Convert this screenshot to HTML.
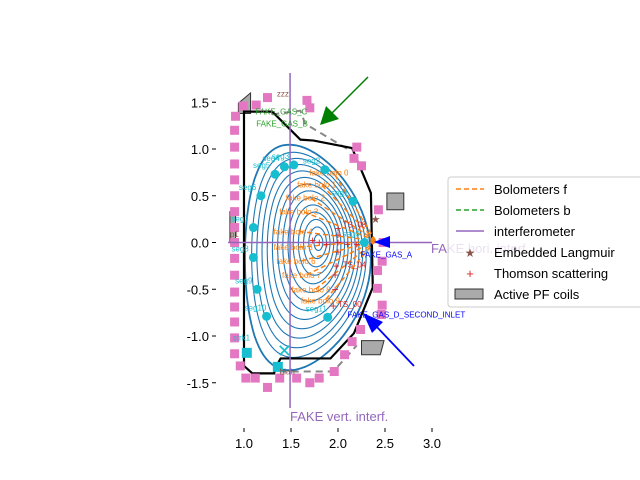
<!DOCTYPE html>
<html><head><meta charset="utf-8"><style>
body{margin:0;background:#fff}
svg{display:block;font-family:"Liberation Sans","DejaVu Sans",sans-serif}
</style></head><body>
<svg id="c" width="640" height="480" viewBox="0 0 640 480">
<g id="plot"></g>
<g id="axes"></g>
<g id="legend">
<rect x="448" y="177" width="200" height="130" rx="3" fill="#fff" fill-opacity="0.8" stroke="#ccc"/>
<line x1="456" y1="189" x2="484" y2="189" stroke="#ff7f0e" stroke-width="1.5" stroke-dasharray="5,3"/>
<text x="494" y="194" font-size="13">Bolometers f</text>
<line x1="456" y1="210" x2="484" y2="210" stroke="#2ca02c" stroke-width="1.5" stroke-dasharray="5,3"/>
<text x="494" y="215" font-size="13">Bolometers b</text>
<line x1="456" y1="231" x2="484" y2="231" stroke="#9467bd" stroke-width="1.5"/>
<text x="494" y="236" font-size="13">interferometer</text>
<text x="470" y="257" font-size="12" fill="#8c564b" text-anchor="middle">★</text>
<text x="494" y="257" font-size="13">Embedded Langmuir</text>
<text x="470" y="278" font-size="13" fill="#d62728" text-anchor="middle">+</text>
<text x="494" y="278" font-size="13">Thomson scattering</text>
<rect x="455" y="289" width="28" height="10" fill="#aaa" stroke="#333"/>
<text x="494" y="299" font-size="13">Active PF coils</text>
</g>
</svg>
<script>
const xTicks=[1.0,1.5,2.0,2.5,3.0];
const yTicks=[1.5,1.0,0.5,0.0,-0.5,-1.0,-1.5];
const wallR=[1.0,1.3,1.6,1.74,2.15,2.35,2.37,2.17,1.92,1.82,1.39,1.34,1.32,1.09,1.0];
const wallZ=[1.4,1.4,1.1,1.09,1.01,0.53,-0.48,-0.97,-1.24,-1.24,-1.24,-1.33,-1.4,-1.4,-1.32];
const pinkR=[1.25,1.13,0.99,0.91,0.9,0.9,0.9,0.9,0.9,0.9,0.9,0.9,0.9,0.9,0.9,0.9,0.9,0.9,0.9,0.96,1.02,1.12,1.25,1.38,1.56,1.7,1.8,1.96,2.07,2.15,2.24,2.46,2.47,2.42,2.42,2.47,2.48,2.43,2.2,2.17,2.25,1.67,1.7];
const pinkZ=[1.55,1.47,1.46,1.35,1.2,1.02,0.84,0.67,0.5,0.33,0.16,0.0,-0.17,-0.35,-0.53,-0.69,-0.85,-1.02,-1.19,-1.32,-1.45,-1.45,-1.55,-1.45,-1.45,-1.5,-1.45,-1.38,-1.2,-1.06,-0.93,-0.77,-0.67,-0.49,-0.3,-0.2,0.0,0.35,1.02,0.9,0.82,1.52,1.44];
const segR=[1.33,1.43,1.53,1.86,2.16,1.18,1.1,1.1,1.14,1.24,1.89,2.28];
const segZ=[0.73,0.81,0.83,0.78,0.44,0.5,0.16,-0.16,-0.5,-0.79,-0.8,0.0];
const segLbl=["seg5","seg4","seg3","seg2","seg1","seg6","seg7","seg8","seg9","seg10","seg11","seg0"];
const tsR=[2.0,2.0,2.0,2.0,1.98,1.97,1.97,1.95,1.73,1.8,1.88,2.1,2.2];
const tsZ=[0.15,0.08,0.0,-0.1,-0.25,-0.35,-0.5,-0.68,0.02,0.0,-0.02,-0.02,-0.02];
const boloEndR=[1.95,1.82,1.7,1.63,1.57,1.57,1.6,1.66,1.76,1.86];
const boloEndZ=[0.75,0.62,0.48,0.33,0.12,-0.05,-0.2,-0.35,-0.5,-0.62];
const fluxLevels=[0.07,0.14,0.21,0.28,0.35,0.42,0.49,0.56,0.63,0.7,0.77,0.84,0.91,1.0];
const X=r=>150+94*r, Y=z=>242.5-93.5*z;
const NS="http://www.w3.org/2000/svg";
const plot=document.getElementById('plot'), axes=document.getElementById('axes');
function mk(p,tag,at,txt){const e=document.createElementNS(NS,tag);for(const k in at)e.setAttribute(k,at[k]);if(txt!==undefined)e.textContent=txt;p.appendChild(e);return e;}
// coils
[[[0.94,1.49],[1.07,1.6],[1.07,1.38],[0.94,1.38]],[[2.52,0.53],[2.7,0.53],[2.7,0.35],[2.52,0.35]],[[2.25,-1.05],[2.49,-1.05],[2.45,-1.2],[2.25,-1.2]],[[0.85,0.33],[0.91,0.33],[0.91,0.0],[0.85,0.0]]].forEach((c,i)=>{
const e=mk(plot,'polygon',{points:c.map(p=>X(p[0])+','+Y(p[1])).join(' '),fill:'#aaa',stroke:'#333'});

});
// gray dashed outlines
[[[1.3,1.37],[1.6,1.41],[1.65,1.27],[2.1,1.0]],[[1.38,-1.38],[1.95,-1.38],[2.2,-1.1]],[[1.0,1.3],[1.0,-1.3]]].forEach((l,i)=>{
const e=mk(plot,'polyline',{points:l.map(p=>X(p[0])+','+Y(p[1])).join(' '),fill:'none',stroke:'#888','stroke-width':2,'stroke-dasharray':'7,5'});

});
// flux surfaces
fluxLevels.forEach((s,i)=>{let pts=[];const Rc=1.8-0.12*s,Zc=-0.16*s*s,a=0.67*s,k=1.8,d=0.3*s;
for(let j=0;j<=90;j++){const t=j/90*2*Math.PI;const r=Rc+a*Math.cos(t+d*Math.sin(t));const z=Zc+k*a*Math.sin(t);pts.push(X(r).toFixed(1)+','+Y(z).toFixed(1));}
const e=mk(plot,'polyline',{points:pts.join(' '),fill:'none',stroke:'#1f77b4','stroke-width':i==fluxLevels.length-1?1.8:1.1});

});
// wall
const w=mk(plot,'polygon',{points:wallR.map((r,i)=>X(r)+','+Y(wallZ[i])).join(' '),fill:'none',stroke:'#000','stroke-width':2.2});


// pink squares
pinkR.forEach((r,i)=>{const e=mk(plot,'rect',{x:X(r)-4.5,y:Y(pinkZ[i])-4.5,width:9,height:9,fill:'#e377c2'});

});
// interferometer
const iv=mk(plot,'line',{x1:X(1.49),y1:73,x2:X(1.49),y2:408,stroke:'#9467bd','stroke-width':1.5});


const ih=mk(plot,'line',{x1:228,y1:Y(0),x2:432,y2:Y(0),stroke:'#9467bd','stroke-width':1.5});


const vl=mk(plot,'text',{x:290,y:421,'font-size':13,fill:'#9467bd'},'FAKE vert. interf.');


const hl=mk(plot,'text',{x:431,y:253,'font-size':13,fill:'#9467bd'},'FAKE hori. interf.');


// bolometers
boloEndR.forEach((r,i)=>{const e=mk(plot,'line',{x1:X(2.4),y1:Y(0.02),x2:X(r),y2:Y(boloEndZ[i]),stroke:'#ff7f0e','stroke-width':1.5,'stroke-dasharray':'5,3'});


const t=mk(plot,'text',{x:X(r)-24,y:Y(boloEndZ[i])+3,'font-size':8,fill:'#ff7f0e'},'fake bolo '+i);

});
// seg points
segR.forEach((r,i)=>{const e=mk(plot,'circle',{cx:X(r),cy:Y(segZ[i]),r:4.5,fill:'#17becf'});


const t=mk(plot,'text',{x:X(r)-22,y:Y(segZ[i])-6,'font-size':8,fill:'#17becf'},segLbl[i]);

});
[[1.03,-1.18],[1.36,-1.33]].forEach((p,i)=>{const e=mk(plot,'rect',{x:X(p[0])-5,y:Y(p[1])-5,width:10,height:10,fill:'#17becf'});

});
const sx=mk(plot,'text',{x:X(1.43),y:Y(-1.16)+6,'font-size':18,fill:'#17becf','text-anchor':'middle'},'✕');


// thomson
tsR.forEach((r,i)=>{const e=mk(plot,'text',{x:X(r),y:Y(tsZ[i])+4,'font-size':12,fill:'#d62728','text-anchor':'middle'},'+');

});
[['TS_08',2.05,0.16],['TS_04',2.05,-0.27],['TS_00',2.0,-0.69],['FAKE_GAS_A',2.24,-0.16],['FAKE_GAS_D_SECOND_INLET',2.1,-0.8],['FAKE_GAS_C',1.12,1.37],['FAKE_GAS_B',1.13,1.24],['zzz',1.35,1.56],['blah',1.38,-1.41],['strk1',0.88,-1.05],['p1',0.85,0.06]].forEach((a,i)=>{
const col=a[0].startsWith('TS')?'#d62728':a[0].includes('GAS_A')||a[0].includes('GAS_D')?'#0000ff':a[0].includes('GAS')?'#2ca02c':a[0]=='strk1'?'#17becf':'#8c564b';
const e=mk(plot,'text',{x:X(a[1]),y:Y(a[2]),'font-size':8,fill:col},a[0]);

});
// arrows
const g1=mk(plot,'line',{x1:368,y1:77,x2:330,y2:115,stroke:'#008000','stroke-width':1.5});

const g2=mk(plot,'polygon',{points:'320,125 326,106 339,119',fill:'#008000'});

const b1=mk(plot,'line',{x1:414,y1:366,x2:375,y2:325,stroke:'#0000ff','stroke-width':1.8});

const b2=mk(plot,'polygon',{points:'363,313 383,322 372,333',fill:'#0000ff'});

const b3=mk(plot,'polygon',{points:'374,242 390,236 390,248',fill:'#0000ff'});

const st=mk(plot,'text',{x:X(2.4),y:Y(0.25)+4,'font-size':11,fill:'#8c564b','text-anchor':'middle'},'★');

// axes
xTicks.forEach(v=>{const l=mk(axes,'line',{x1:X(v),y1:428,x2:X(v),y2:432,stroke:'#000'});

const t=mk(axes,'text',{x:X(v),y:448,'font-size':13,'text-anchor':'middle'},v.toFixed(1));
});
yTicks.forEach(v=>{const l=mk(axes,'line',{x1:212,y1:Y(v),x2:216,y2:Y(v),stroke:'#000'});

const t=mk(axes,'text',{x:209,y:Y(v)+5,'font-size':13,'text-anchor':'end'},v.toFixed(1));
});
</script>
</body></html>
